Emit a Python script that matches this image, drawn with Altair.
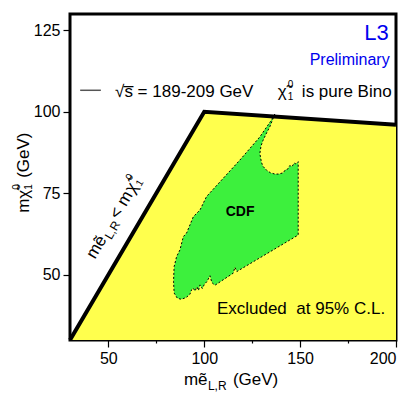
import altair as alt
import pandas as pd

FONT = "Liberation Sans"
YELLOW = "#FFFF4D"
GREEN = "#3DF03D"

# excluded region (L3)
region_x = [30, 100, 200, 200, 30]
region_y = [30, 100, 96, 30, 30]
# kinematic boundary
boundary_x = [30, 100, 200]
boundary_y = [30, 100, 96]
# CDF region outline
cdf_x = [136.8, 134.5, 129.0, 118.6, 109.9, 101.2, 97.8, 94.3, 90.8, 89.1, 87.3, 85.6, 84.3, 84.0, 84.3,
         86.0, 88.0, 90.5, 92.5, 93.4, 94.3, 95.2, 96.2, 97.0, 97.8, 99.0, 100.0, 101.5, 103.0, 104.0,
         105.6, 115.1, 116.0, 117.0, 149.0, 149.0, 147.8, 146.9, 145.8, 144.6, 143.5, 142.3, 141.2,
         138.8, 136.8, 134.5, 132.5, 130.6, 129.8, 129.0, 129.6, 130.7, 132.5, 134.2, 135.6, 136.8]
cdf_y = [99.3, 97.0, 92.3, 85.2, 79.6, 74.0, 69.9, 67.8, 62.8, 61.7, 57.6, 55.6, 52.5, 48.0, 44.4,
         42.8, 42.5, 43.0, 44.0, 45.4, 45.9, 45.0, 46.3, 45.2, 46.9, 45.8, 47.0, 48.0, 49.7, 47.6,
         46.8, 50.5, 52.3, 51.0, 62.2, 84.7, 84.0, 84.3, 83.2, 83.5, 82.4, 82.2, 81.3,
         80.9, 80.9, 81.3, 82.1, 83.3, 84.6, 87.2, 89.5, 91.3, 93.5, 95.4, 97.5, 99.3]
# legend sample line
legend_line_x = [35.3, 46.1]
legend_line_y = [106.6, 106.6]

x_ticks = [50, 75, 100, 125, 150, 175, 200]
y_ticks = [50, 75, 100, 125]

xscale = alt.Scale(domain=[30, 200], nice=False, zero=False)
yscale = alt.Scale(domain=[30, 130], nice=False, zero=False)
xaxis = alt.Axis(values=x_ticks, title=None, domain=False, grid=False,
                 labelExpr="datum.value % 50 === 0 ? datum.label : ''",
                 tickSize={"condition": {"test": "datum.value % 50 === 0", "value": 7}, "value": 3},
                 labelPadding=3)
yaxis = alt.Axis(values=y_ticks, title=None, domain=False, grid=False, tickSize=7, labelPadding=3)
X = alt.X("x:Q", scale=xscale, axis=xaxis)
Y = alt.Y("y:Q", scale=yscale, axis=yaxis)


def poly(xs, ys):
    return pd.DataFrame({"x": xs, "y": ys, "i": list(range(len(xs)))})


yellow = alt.Chart(poly(region_x, region_y)).mark_line(
    filled=True, fill=YELLOW, strokeWidth=0
).encode(x=X, y=Y, order="i:Q")

green = alt.Chart(poly(cdf_x, cdf_y)).mark_line(
    filled=True, fill=GREEN, stroke="black", strokeWidth=1, strokeDash=[2, 2]
).encode(x=X, y=Y, order="i:Q")

bound = alt.Chart(poly(boundary_x, boundary_y)).mark_line(
    color="black", strokeWidth=4, strokeJoin="miter"
).encode(x=X, y=Y, order="i:Q")

legline = alt.Chart(poly(legend_line_x, legend_line_y)).mark_line(
    color="#555555", strokeWidth=1.5
).encode(x=X, y=Y, order="i:Q")


def label(xv, yv, s, **kw):
    df = pd.DataFrame({"x": [xv], "y": [yv], "t": [s]})
    opts = dict(font=FONT, fontSize=17, color="black", align="left", baseline="alphabetic")
    opts.update(kw)
    return alt.Chart(df).mark_text(**opts).encode(x=X, y=Y, text="t:N")


def xtitle(xv, s, **kw):
    df = pd.DataFrame({"x": [xv], "t": [s]})
    opts = dict(font=FONT, fontSize=17, color="black", align="left", baseline="alphabetic")
    opts.update(kw)
    return alt.Chart(df).mark_text(**opts).encode(x=X, y=alt.value(371), text="t:N")


def ytitle(yv, s, **kw):
    df = pd.DataFrame({"y": [yv], "t": [s]})
    opts = dict(font=FONT, fontSize=17, color="black", align="left", baseline="alphabetic", angle=270)
    opts.update(kw)
    return alt.Chart(df).mark_text(**opts).encode(x=alt.value(-41), y=Y, text="t:N")


texts = [
    label(196.2, 121.9, "L3", color="#0000EE", fontSize=22, align="right"),
    label(196.7, 114.3, "Preliminary", color="#0000EE", fontSize=16, align="right"),
    label(53.5, 104.5, "√s\u0305 = 189-209 GeV"),
    label(138.4, 104.5, "χ\u0303"),
    label(138.4, 104.5, "0", fontSize=10, dx=10, dy=-9),
    label(138.4, 104.5, "1", fontSize=10, dx=10, dy=3),
    label(138.4, 104.5, "is pure Bino", dx=24),
    label(118.7, 69.4, "CDF", fontSize=14, fontWeight="bold", align="center", baseline="middle"),
    label(106.6, 38.1, "Excluded\u00a0\u00a0at 95% C.L."),
]

# diagonal label
dgx, dgy, ang = 43.1, 54.6, 300.3
texts += [
    label(dgx, dgy, "m", angle=ang),
    label(dgx, dgy, "e\u0303", angle=ang, dx=14),
    label(dgx, dgy, "L,R", angle=ang, dx=25, dy=4, fontSize=12),
    label(dgx, dgy, "<", angle=ang, dx=46),
    label(dgx, dgy, "m", angle=ang, dx=61),
    label(dgx, dgy, "χ\u0303", angle=ang, dx=76),
    label(dgx, dgy, "0", angle=ang, dx=86, dy=-9, fontSize=10),
    label(dgx, dgy, "1", angle=ang, dx=86, dy=3, fontSize=10),
]

# axis titles
texts += [
    xtitle(89.4, "m"),
    xtitle(89.4, "e\u0303", dx=14),
    xtitle(89.4, "L,R", dx=24, dy=5, fontSize=12),
    xtitle(89.4, "(GeV)", dx=49),
    ytitle(69.0, "m"),
    ytitle(69.0, "χ\u0303", dx=14),
    ytitle(69.0, "0", dx=23, dy=-9, fontSize=10),
    ytitle(69.0, "1", dx=23, dy=3, fontSize=10),
    ytitle(69.0, "(GeV)", dx=35),
]

chart = alt.layer(yellow, green, bound, legline, *texts).properties(
    width=326, height=326, autosize="none",
    padding={"left": 62, "top": 6, "right": 13, "bottom": 56},
).configure_view(
    stroke="black", strokeWidth=3
).configure_axis(
    labelFont=FONT, labelFontSize=16, labelColor="black", tickColor="black", tickWidth=1.2
)

chart.save("out.html", embed_options={"renderer": "svg", "actions": False})
